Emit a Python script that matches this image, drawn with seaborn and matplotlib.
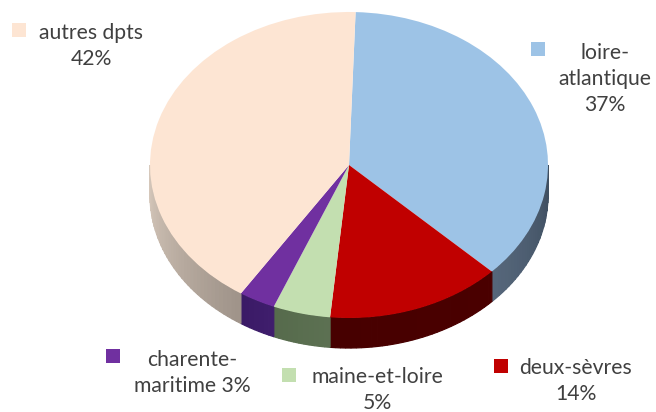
# -*- coding: utf-8 -*-
import numpy as np
import matplotlib
matplotlib.use('Agg')
import matplotlib.pyplot as plt
import seaborn as sns

# data
labels = ['loire-\natlantique\n37%', 'deux-sèvres\n14%', 'maine-et-loire\n5%',
          'charente-\nmaritime 3%', 'autres dpts\n42%']
values = [37.1, 14.4, 4.7, 3.0, 41.8]
top_colors = ['#9dc3e6', '#c00000', '#c3dfb0', '#7030a0', '#fde5d3']
side_from = ['#3f4f61', '#470000', '#566b4c', '#3a1a66', '#d8cabd']
side_to = ['#56677b', '#4a0000', '#5c7052', '#3f1d6c', '#a0948a']

# legend squares and text positions, in pixels
marker_x = [538, 501, 289, 113, 19]
marker_y = [49, 366, 375, 356, 30]
text_x = [605, 576, 377, 192, 91]
text_y = [79, 381, 390, 373, 46]

sns.set_theme(style='white')
plt.rcParams['font.family'] = ['Lato', 'DejaVu Sans']

W, H = 656, 412
fig = plt.figure(figsize=(W / 100, H / 100), dpi=100)

# ellipse of the top face: x 150..548, y 12..318
ax = fig.add_axes([150 / W, 1 - 318 / H, 398 / W, 306 / H])
wedges, _ = ax.pie(values, colors=top_colors, startangle=88.1, counterclock=False,
                   radius=1, center=(0, 0), wedgeprops={'linewidth': 0, 'zorder': 3})
ax.set_aspect('auto')
ax.set_xlim(-1, 1)
ax.set_ylim(-1, 1)
ax.axis('off')

# side wall of the disc, only the front half shows
depth = 30 / 153
for wedge, c1, c2 in zip(wedges, side_from, side_to):
    start = wedge.theta1 % 360
    a1 = max(start, 180)
    a2 = min(start + wedge.theta2 - wedge.theta1, 360)
    if a2 <= a1:
        continue
    steps = max(int((a2 - a1) / 1.5), 1)
    edges = np.linspace(a1, a2, steps + 1)
    pal = sns.blend_palette([c1, c2], steps)
    # right hand wall gets darker towards the outer edge
    if a1 >= 270:
        pal = pal[::-1]
    for i in range(steps):
        t = np.radians(np.linspace(edges[i], edges[i + 1], 4))
        xs = np.cos(t)
        ys = np.sin(t)
        ax.fill(np.r_[xs, xs[::-1]], np.r_[ys, ys[::-1] - depth], facecolor=pal[i],
                edgecolor=pal[i], lw=0.9, zorder=2, clip_on=False)

# overlay in pixel coordinates for the labels
ov = fig.add_axes([0, 0, 1, 1])
ov.set_xlim(0, W)
ov.set_ylim(H, 0)
ov.axis('off')
ov.patch.set_alpha(0)
sns.scatterplot(x=marker_x, y=marker_y, hue=labels, palette=top_colors, marker='s', s=88,
                linewidth=0, legend=False, ax=ov)
for i, lab in enumerate(labels):
    ov.text(text_x[i], text_y[i], lab, ha='center', va='center', fontsize=15.2,
            color='#404040', linespacing=1.35)

plt.savefig('out.png', dpi=100)
